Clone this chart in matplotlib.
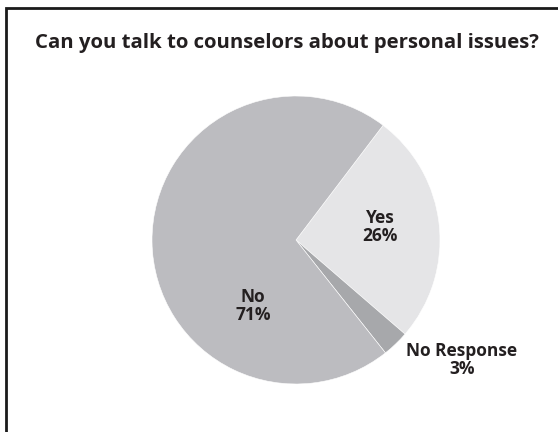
import matplotlib.pyplot as plt
from matplotlib.patches import Rectangle

labels = ["Yes", "No Response", "No"]
values = [26, 3, 71]
colors = ["#e5e5e7", "#a7a8ab", "#bcbcc0"]
title = "Can you talk to counselors about personal issues?"

plt.rcParams['font.family'] = ['Open Sans', 'DejaVu Sans']

fig = plt.figure(figsize=(5.58, 4.32), dpi=100)

# frame around the chart
fig.patches.append(Rectangle((6 / 558, -0.01), 1.0, 1 - 8 / 432 + 0.01,
                             transform=fig.transFigure, fill=False,
                             edgecolor="#1a1a1a", linewidth=2))

fig.text(35 / 558, 1 - 43 / 432, title, fontsize=14.7, fontweight="bold",
         color="#231f20", va="center", ha="left")

cx, cy, r = 296, 240, 144
ax = fig.add_axes([(cx - r) / 558, (432 - cy - r) / 432, 2 * r / 558, 2 * r / 432])
ax.pie(values, colors=colors, startangle=52.8, counterclock=False,
       wedgeprops=dict(edgecolor="white", linewidth=0.4))
ax.set_xlim(-1, 1)
ax.set_ylim(-1, 1)
ax.set_aspect("equal")
ax.axis("off")

# slice labels
label_pos = {"Yes": (380, 227), "No Response": (462, 360), "No": (253, 306)}
for lab, v in zip(labels, values):
    x, y = label_pos[lab]
    fig.text(x / 558, 1 - y / 432, f"{lab}\n{v}%", fontsize=12.5, fontweight="bold",
             color="#231f20", ha="center", va="center", linespacing=0.95)

fig.savefig("out.png", dpi=100)
